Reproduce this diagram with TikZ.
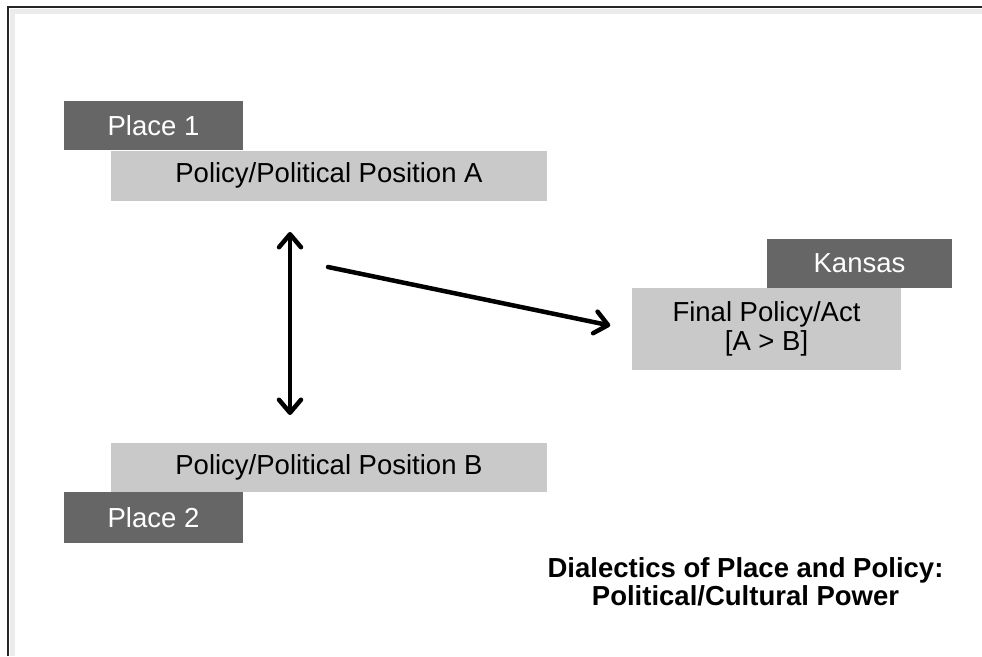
\documentclass[tikz,border=0pt]{standalone}
\usepackage{fontspec}
\setmainfont{Liberation Sans}
\usetikzlibrary{arrows.meta}
\definecolor{darkfill}{HTML}{666666}
\definecolor{lightfill}{HTML}{C9C9C9}
\begin{document}
\begin{tikzpicture}[x=1pt,y=-1pt,
  boxtext/.style={font=\fontsize{27.5}{31}\selectfont},
  darkbox/.style={boxtext, fill=darkfill, text=white, draw=none, inner sep=0pt, align=center},
  lightbox/.style={boxtext, fill=lightfill, text=black, draw=none, inner sep=0pt, align=center},
  arr/.style={line width=4.5pt, line cap=round, -{Straight Barb[length=13pt,width=22pt,round]}},
  darr/.style={line width=4.5pt, line cap=round, {Straight Barb[length=13pt,width=22pt,round]}-{Straight Barb[length=13pt,width=22pt,round]}}
]
\useasboundingbox (0,0) rectangle (982,656);
\fill[white] (0,0) rectangle (982,656);
% frame with soft shadow
\draw[black!8, line width=5pt] (12,656) -- (12,11) -- (982,11);
\draw[black!85, line width=2pt] (8,656) -- (8,7) -- (982,7);

\node[darkbox, minimum width=179pt, minimum height=49pt] (place1) at (153.5,125.5) {Place 1};
\node[lightbox, minimum width=436pt, minimum height=50pt] (posA) at (329,175.5) {Policy/Political Position A};
\node[lightbox, minimum width=436pt, minimum height=49pt] (posB) at (329,467.5) {Policy/Political Position B};
\node[darkbox, minimum width=179pt, minimum height=51pt] (place2) at (153.5,517.5) {Place 2};
\node[darkbox, minimum width=185pt, minimum height=49pt] (kansas) at (859.5,263.5) {Kansas};
\node[lightbox, minimum width=269pt, minimum height=82pt, font=\fontsize{27.5}{29}\selectfont] (final) at (766.5,329) {Final Policy/Act\\{}[A > B]};

\coordinate (v1) at (290,232);
\coordinate (v2) at (290,415);
\draw[darr] (v1) -- (v2);

\coordinate (d1) at (328,267);
\draw[arr, shorten >=22pt] (d1) -- ([yshift=-1pt]final.west);

\node[font=\bfseries\fontsize{27.5}{28}\selectfont, align=center] (title) at (745.5,582)
  {Dialectics of Place and Policy:\\Political/Cultural Power};
\end{tikzpicture}
\end{document}
